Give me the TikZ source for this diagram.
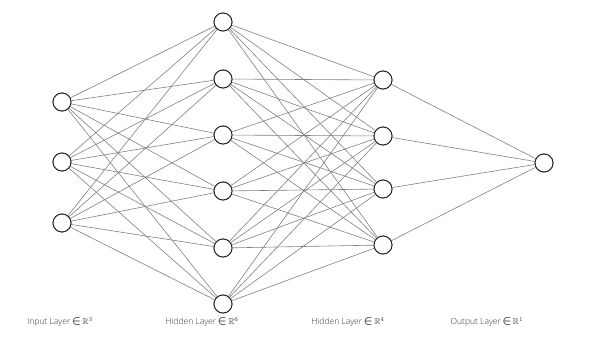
\documentclass[tikz,border=0pt]{standalone}
\usepackage{amsmath,amssymb}
\usepackage{fontspec}
\setmainfont{Open Sans}[UprightFont=* Light]
\newcommand{\elt}{\,{\large$\boldsymbol{\in}$}\,}
\newcommand{\realsp}[1]{$\boldsymbol{\mathbb{R}}^{#1}$}
\begin{document}
\begin{tikzpicture}[x=1pt,y=-1pt,
  neuron/.style={circle,draw=black!85,line width=0.9pt,fill=white,minimum size=18pt,inner sep=0pt},
  conn/.style={draw=black!50,line width=0.6pt},
  lab/.style={font=\fontsize{8.5}{10}\selectfont,text=black!80,inner sep=0pt}]
\useasboundingbox (0,0) rectangle (608,353);
\foreach \y [count=\i] in {102,162,223} \node[neuron] (a\i) at (62,\y) {};
\foreach \y [count=\i] in {22,79,135,191,248,304} \node[neuron] (b\i) at (223,\y) {};
\foreach \y [count=\i] in {80,136,189,245} \node[neuron] (c\i) at (383,\y) {};
\node[neuron] (d1) at (544,163) {};
\foreach \i in {1,2,3} \foreach \j in {1,...,6} \draw[conn] (a\i) -- (b\j);
\foreach \i in {1,...,6} \foreach \j in {1,...,4} \draw[conn] (b\i) -- (c\j);
\foreach \i in {1,...,4} \draw[conn] (c\i) -- (d1);
\foreach \i in {1,2,3} \node[neuron] at (a\i) {};
\foreach \i in {1,...,6} \node[neuron] at (b\i) {};
\foreach \i in {1,...,4} \node[neuron] at (c\i) {};
\node[neuron] at (d1) {};
\node[lab] (l1) at (60,322) {Input Layer\elt\realsp{3}};
\node[lab] (l2) at (202,322) {Hidden Layer\elt\realsp{6}};
\node[lab] (l3) at (348,322) {Hidden Layer\elt\realsp{4}};
\node[lab] (l4) at (487,322) {Output Layer\elt\realsp{1}};
\end{tikzpicture}
\end{document}
